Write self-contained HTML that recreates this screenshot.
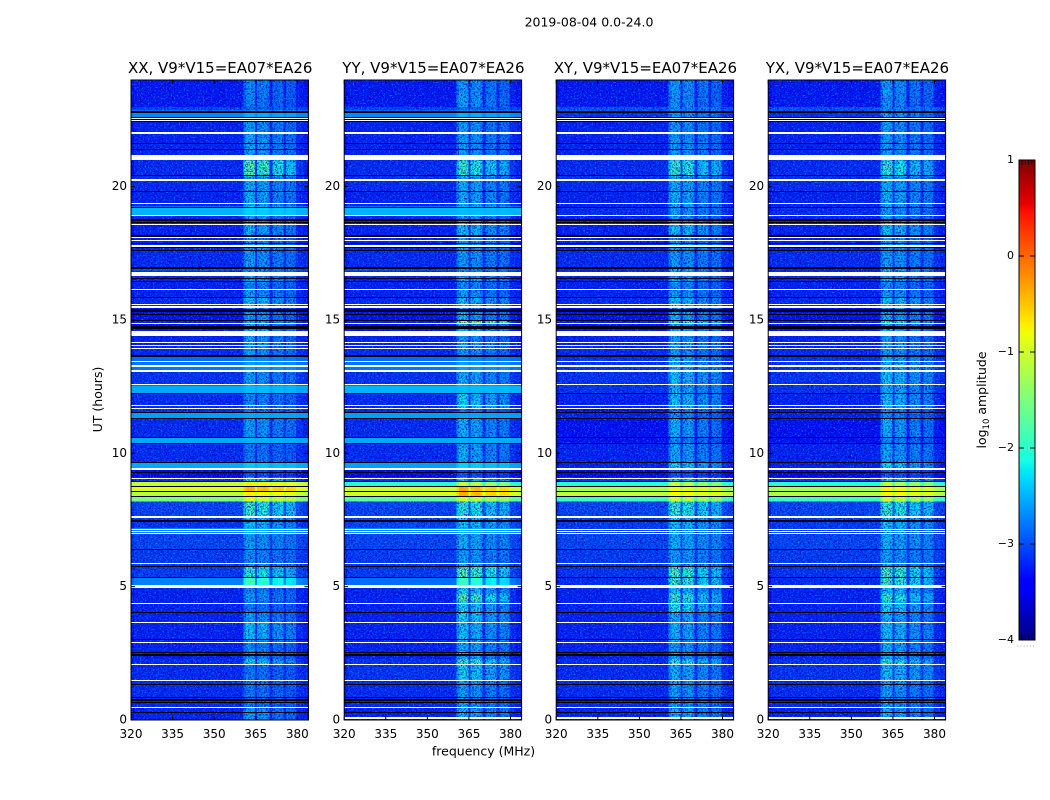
<!DOCTYPE html>
<html>
<head>
<meta charset="utf-8">
<title>2019-08-04 amplitude waterfall</title>
<style>
html,body{margin:0;padding:0;background:#fff;}
svg{display:block;}
text{font-family:"DejaVu Sans","Liberation Sans",sans-serif;fill:#000;}
</style>
</head>
<body>
<svg id="chart" xmlns="http://www.w3.org/2000/svg" width="1050" height="800" viewBox="0 0 1050 800">
<defs>
<filter id="speckleDark" x="0" y="0" width="100%" height="100%" color-interpolation-filters="sRGB">
<feTurbulence type="fractalNoise" baseFrequency="0.62" numOctaves="2" seed="4"/>
<feColorMatrix type="matrix" values="0 0 0 0 0  0 0 0 0 0  0 0 0 0 0.68  2.6 0 0 0 -1.1"/>
</filter>
<filter id="speckleLight" x="0" y="0" width="100%" height="100%" color-interpolation-filters="sRGB">
<feTurbulence type="fractalNoise" baseFrequency="0.62" numOctaves="2" seed="11"/>
<feColorMatrix type="matrix" values="0 0 0 0 0  0 0 0 0 0.72  0 0 0 0 1  0 2.4 0 0 -1.32"/>
</filter>
</defs>
<text x="589" y="26.5" font-size="12.5" text-anchor="middle">2019-08-04 0.0-24.0</text>
<text transform="translate(102,399.5) rotate(-90)" font-size="12.5" text-anchor="middle">UT (hours)</text>
<text x="483.5" y="755.5" font-size="12.5" text-anchor="middle">frequency (MHz)</text>
<text transform="translate(986,400) rotate(-90)" font-size="12.5" text-anchor="middle">log<tspan font-size="8.5" dy="3">10</tspan><tspan dy="-3"> amplitude</tspan></text>
<g id="panels"></g>
<g id="colorbar"></g>
</svg>
<script>
// Axis tick values
const freqTicks = [320, 335, 350, 365, 380];
const hourTicks = [0, 5, 10, 15, 20];
const colorTicks = [1, 0, -1, -2, -3, -4];

// Panel titles
const panelTitles = ["XX, V9*V15=EA07*EA26", "YY, V9*V15=EA07*EA26", "XY, V9*V15=EA07*EA26", "YX, V9*V15=EA07*EA26"];

// Frequency bands (MHz) and how strongly each one shows the band-limited signal
const freqEdges = [320, 321, 360.5, 361.5, 363.5, 364.8, 365.5, 367, 369, 369.9, 371, 373, 375, 376, 378, 379.6, 382, 384];
const bandWeights = [-0.15, 0, 0.7, 1, 0.95, 0.1, 0.8, 0.9, 0.75, 0.05, 0.65, 0.7, 0.1, 0.6, 0.55, 0.05, -0.05];

// Time segments (UT hours)
const rowEdges = [0, 0.5, 1.5, 2.1, 2.3, 3, 3.7, 4.05, 4.45, 4.75, 5.05, 5.35, 5.75, 6.4, 7, 7.2, 7.65, 8.2, 8.37, 8.58, 8.75, 8.96, 9.1, 9.4, 9.66, 10.38, 10.6, 11.31, 11.52, 11.7, 12.25, 12.55, 13.1, 13.45, 13.65, 14, 14.5, 14.88, 15, 15.3, 15.5, 15.85, 16.15, 16.43, 16.65, 16.85, 17, 17.6, 18.15, 18.6, 18.95, 19.25, 19.85, 20.25, 20.4, 21, 21.4, 22, 22.44, 22.55, 22.85, 23, 23.4, 24];

// log10 amplitude per time segment: quiet band and active band, per polarisation
const xxQuiet = [-3.2,-3.15,-3.15,-3.15,-3.2,-3.2,-3.2,-3.2,-3.2,-3.2,-2.75,-3.05,-3.05,-3,-2.75,-3.1,-3,-1.5,-1.15,-0.9,-1.05,-3.1,-3.35,-2.55,-3.15,-2.55,-3.15,-2.6,-3.15,-3.15,-2.55,-3.1,-2.8,-2.85,-3.15,-3.2,-3.3,-3.2,-3.3,-3.3,-3.15,-3.2,-3.2,-3.2,-3.15,-2.95,-3.15,-3.2,-3.2,-3.2,-2.5,-3.2,-3.15,-3.15,-3.15,-3.2,-3.2,-3.2,-3.2,-2.7,-3,-3.25,-3.25];
const xxActive = [-2.5,-2.7,-2.7,-2.2,-2.6,-2.3,-2.5,-2.7,-2.5,-2.6,-1.9,-2,-2.6,-2.5,-2.5,-2.3,-1.9,-0.9,-0.7,-0.4,-0.7,-2.2,-2.9,-2.4,-2.7,-2.5,-2.5,-2.55,-2.7,-2.6,-2.45,-2.5,-2.6,-2.7,-2.5,-2.5,-2.4,-2.4,-2.5,-2.5,-2.3,-2.5,-2.6,-2.4,-2.6,-2.6,-2.5,-2.5,-2.4,-2.5,-2.35,-2.4,-2.4,-2.5,-1.7,-2.45,-2.45,-2.5,-2.6,-2.5,-2.8,-2.65,-2.6];
const yyQuiet = [-3.2,-3.15,-3.1,-3.1,-3.2,-3.2,-3.2,-3.2,-3.2,-3.2,-2.85,-3.05,-3.05,-3,-2.7,-3,-3,-1.7,-1,-1,-2,-3.1,-3.35,-2.6,-3.15,-2.55,-3.15,-2.6,-3.15,-3.15,-2.5,-3.1,-2.8,-2.85,-3.15,-3.2,-3.3,-3.2,-3.3,-3.3,-3.15,-3.2,-3.2,-3.2,-3.15,-2.95,-3.15,-3.2,-3.2,-3.2,-2.5,-3.2,-3.15,-3.15,-3.15,-3.2,-3.2,-3.2,-3.2,-2.7,-3,-3.25,-3.25];
const yyActive = [-2.4,-2.5,-2.2,-1.9,-2.4,-2.3,-2.2,-2.2,-1.7,-2.2,-1.9,-1.7,-2.5,-2.4,-2.5,-2.3,-2,-1,-0.35,-0.35,-1,-2.2,-2.9,-2.35,-2.4,-2.5,-2.4,-2.55,-2.7,-2.2,-2.45,-2.4,-2.6,-2.7,-2.5,-2.5,-2.4,-0.9,-2.4,-2.4,-2.3,-2.5,-2.6,-2.4,-2.6,-2.6,-2.5,-2.5,-2.3,-2.5,-2.45,-2.4,-2.4,-2.5,-1.9,-2.5,-2.5,-2.5,-2.6,-2.5,-2.8,-2.45,-2.5];
const xyQuiet = [-3.2,-3.15,-3.15,-3.15,-3.2,-3.2,-3.2,-3.2,-3.2,-3.2,-3.15,-3.1,-3.05,-3,-3,-3.05,-3,-1.9,-1.1,-1.25,-2,-3.1,-3.35,-3.2,-3.2,-3.3,-3.3,-3.2,-3.3,-3.2,-3.1,-3.1,-3.1,-3.1,-3.15,-3.2,-3.3,-3.2,-3.3,-3.3,-3.15,-3.2,-3.2,-3.2,-3.15,-3.2,-3.15,-3.2,-3.2,-3.2,-3.15,-3.2,-3.15,-3.15,-3.15,-3.2,-3.2,-3.2,-3.2,-3.1,-2.9,-3.25,-3.25];
const xyActive = [-2.4,-2.5,-2.4,-2,-2.5,-2.4,-2.4,-2.1,-1.9,-2.3,-1.8,-1.8,-2.5,-2.4,-2.4,-2.3,-1.9,-1,-0.8,-0.8,-1,-2.2,-2.9,-2.2,-2.45,-2.6,-2.4,-2.6,-2.6,-2.3,-2.4,-2.3,-2.4,-2.4,-2.5,-2.5,-2.4,-1.8,-2.4,-2.4,-2.3,-2.5,-2.6,-2.4,-2.6,-2.4,-2.5,-2.5,-2.3,-2.5,-2.5,-2.4,-2.4,-2.5,-1.9,-2.5,-2.5,-2.5,-2.6,-2.5,-2.6,-2.55,-2.5];
const yxQuiet = [-3.2,-3.15,-3.1,-3.1,-3.2,-3.2,-3.2,-3.2,-3.2,-3.2,-3.15,-3.1,-3.05,-3,-3,-3.05,-3,-1.9,-1.2,-1.25,-2,-3.1,-3.35,-3.2,-3.2,-3.3,-3.3,-3.2,-3.3,-3.2,-3.1,-3.1,-3.1,-3.1,-3.15,-3.2,-3.3,-3.2,-3.3,-3.3,-3.15,-3.2,-3.2,-3.2,-3.15,-3.2,-3.15,-3.2,-3.2,-3.2,-3.15,-3.2,-3.15,-3.15,-3.15,-3.2,-3.2,-3.2,-3.2,-3.1,-2.9,-3.25,-3.25];
const yxActive = [-2.4,-2.5,-2.3,-2,-2.4,-2.3,-2.4,-2.2,-1.9,-2.3,-1.8,-1.8,-2.5,-2.4,-2.4,-2.3,-1.9,-1,-0.75,-0.75,-1,-2.2,-2.9,-2.2,-2.45,-2.6,-2.4,-2.6,-2.6,-2.3,-2.4,-2.3,-2.4,-2.4,-2.5,-2.5,-2.4,-2,-2.4,-2.4,-2.3,-2.5,-2.6,-2.4,-2.6,-2.4,-2.5,-2.5,-2.3,-2.5,-2.5,-2.4,-2.4,-2.5,-2,-2.5,-2.5,-2.5,-2.6,-2.5,-2.6,-2.55,-2.5];

// Flagged integrations: centre hour and width in hours
const whiteHours = [22.556,22.481,22.01,21.1,20.25,19.376,18.91,18.59,18.1,17.99,17.775,16.73,16.15,15.59,15.49,14.876,14.49,14.16,14.05,13.94,13.44,13.275,13.09,12.57,11.79,11.69,9.41,9.06,7.62,7.15,7.07,6.98,5.876,5.006,4.376,3.664,2.914,2.089,1.489,0.476];
const whiteWidths = [0.04,0.04,0.045,0.2,0.045,0.045,0.045,0.045,0.04,0.04,0.045,0.16,0.045,0.045,0.045,0.045,0.19,0.04,0.04,0.04,0.045,0.045,0.045,0.05,0.04,0.04,0.1,0.045,0.085,0.04,0.04,0.04,0.045,0.09,0.045,0.045,0.045,0.045,0.045,0.045];
const blackHours = [22.81,22.594,22.52,22.44,21.63,21.4,20.41,19.83,19.23,18.76,18.67,18.15,17.87,17.81,17.72,17.61,16.95,16.54,16.43,15.85,15.35,15.22,14.99,14.72,13.65,12.25,11.52,11.31,10.6,10.38,9.66,9.28,8.96,8.75,8.58,8.37,7.46,6.4,5.76,5.35,4.04,3.03,2.52,2.44,1.34,0.84,0.75,0.65,0.29];
const blackWidths = [0.07,0.04,0.04,0.04,0.04,0.04,0.04,0.04,0.04,0.065,0.04,0.04,0.04,0.04,0.04,0.04,0.07,0.04,0.04,0.04,0.12,0.04,0.04,0.11,0.04,0.04,0.04,0.04,0.04,0.04,0.04,0.05,0.04,0.04,0.04,0.04,0.07,0.04,0.04,0.04,0.04,0.04,0.05,0.05,0.04,0.04,0.04,0.04,0.04];
// Last flagged integration, present in every panel but XX
const bottomFlagHour = 0.08;
const bottomFlagWidth = 0.085;

const quietSeries = [xxQuiet, yyQuiet, xyQuiet, yxQuiet];
const activeSeries = [xxActive, yyActive, xyActive, yxActive];

const NS = "http://www.w3.org/2000/svg";
const panelLeft = [131, 344.2, 556.2, 768.2];
const panelWidth = 177.4;
const plotTop = 80, plotBottom = 720;
const freqMin = 320, freqMax = 384, hourMin = 0, hourMax = 24;
const cmin = -4, cmax = 1;
const smoothRowLevel = -2.9;

function node(tag, attrs, parent) {
  const el = document.createElementNS(NS, tag);
  for (const k in attrs) el.setAttribute(k, attrs[k]);
  parent.appendChild(el);
  return el;
}
function xScale(left, f) { return left + (f - freqMin) / (freqMax - freqMin) * panelWidth; }
function yScale(h) { return plotBottom - (h - hourMin) / (hourMax - hourMin) * (plotBottom - plotTop); }
function interp(pts, t) {
  for (let i = 1; i < pts.length; i++) {
    if (t <= pts[i][0]) {
      const a = pts[i - 1], b = pts[i];
      return a[1] + (b[1] - a[1]) * (t - a[0]) / (b[0] - a[0]);
    }
  }
  return pts[pts.length - 1][1];
}
const jetR = [[0,0],[0.35,0],[0.66,1],[0.89,1],[1,0.5]];
const jetG = [[0,0],[0.125,0],[0.375,1],[0.64,1],[0.91,0],[1,0]];
const jetB = [[0,0.5],[0.11,1],[0.34,1],[0.65,0],[1,0]];
function colorScale(v) {
  const t = Math.max(0, Math.min(1, (v - cmin) / (cmax - cmin)));
  const c = [jetR, jetG, jetB].map(p => Math.round(interp(p, t) * 255));
  return "rgb(" + c.join(",") + ")";
}
function fmt(v) { return v < 0 ? "\u2212" + Math.abs(v) : String(v); }
function flagRect(left, hour, width, color, parent) {
  const y0 = Math.round(yScale(hour + width / 2));
  const y1 = Math.max(y0 + 1, Math.round(yScale(hour - width / 2)));
  return node("rect", { x: left, y: y0, width: panelWidth, height: y1 - y0, fill: color }, parent);
}

const panelsRoot = document.getElementById("panels");
panelTitles.forEach(function (title, p) {
  const left = panelLeft[p];
  const g = node("g", {}, panelsRoot);
  
  

  const cells = node("g", { "shape-rendering": "crispEdges" }, g);
  
  

  const dark = node("rect", { x: left, y: plotTop, width: panelWidth, height: plotBottom - plotTop, filter: "url(#speckleDark)" }, g);
  
  
  const light = node("rect", { x: left, y: plotTop, width: panelWidth, height: plotBottom - plotTop, filter: "url(#speckleLight)" }, g);
  
  

  const smoothCells = node("g", { "shape-rendering": "crispEdges" }, g);
  
  

  for (let r = 0; r < rowEdges.length - 1; r++) {
    for (let c = 0; c < freqEdges.length - 1; c++) {
      const q = quietSeries[p][r], a = activeSeries[p][r];
      const val = q + (a - q) * bandWeights[c];
      const x0 = xScale(left, freqEdges[c]), x1 = xScale(left, freqEdges[c + 1]);
      const y0 = yScale(rowEdges[r + 1]), y1 = yScale(rowEdges[r]);
      const target = q > smoothRowLevel ? smoothCells : cells;
      const cell = node("rect", { x: x0, y: y0, width: x1 - x0 + 0.4, height: y1 - y0 + 0.4, fill: colorScale(val) }, target);
      
      
    }
  }

  const flags = node("g", { "shape-rendering": "crispEdges" }, g);
  
  
  blackHours.forEach(function (h, i) {
    const line = flagRect(left, h, blackWidths[i], "#000010", flags);
    
    
  });
  whiteHours.forEach(function (h, i) {
    const line = flagRect(left, h, whiteWidths[i], "#fff", flags);
    
    
  });
  if (p > 0) {
    const last = flagRect(left, bottomFlagHour, bottomFlagWidth, "#fff", flags);
    
    
  }

  const frame = node("rect", { x: left, y: plotTop, width: panelWidth, height: plotBottom - plotTop, fill: "none", stroke: "#000", "stroke-width": 1 }, g);
  
  

  const t = node("text", { x: left + panelWidth / 2 + 0.5, y: 73, "font-size": 15, "text-anchor": "middle" }, g);
  t.textContent = title;
  
  

  freqTicks.forEach(function (f) {
    const x = xScale(left, f);
    const tb = node("line", { x1: x, x2: x, y1: plotBottom, y2: plotBottom - 4, stroke: "#000" }, g);
    
    
    const tt = node("line", { x1: x, x2: x, y1: plotTop, y2: plotTop + 4, stroke: "#000" }, g);
    
    
    const lab = node("text", { x: x, y: 738, "font-size": 12, "text-anchor": "middle" }, g);
    lab.textContent = f;
    
    
  });
  hourTicks.forEach(function (h) {
    const y = yScale(h);
    const tl = node("line", { x1: left, x2: left + 4, y1: y, y2: y, stroke: "#000" }, g);
    
    
    const tr = node("line", { x1: left + panelWidth, x2: left + panelWidth - 4, y1: y, y2: y, stroke: "#000" }, g);
    
    
    const lab = node("text", { x: left - 4, y: y + 3.5, "font-size": 12, "text-anchor": "end" }, g);
    lab.textContent = h;
    
    
  });
});

// Colorbar
const cbRoot = document.getElementById("colorbar");
const cbLeft = 1019, cbWidth = 16, cbTop = 160, cbBottom = 640, cbSteps = 240;
function cbY(v) { return cbBottom - (v - cmin) / (cmax - cmin) * (cbBottom - cbTop); }
const cbFill = node("g", { "shape-rendering": "crispEdges" }, cbRoot);


for (let i = 0; i < cbSteps; i++) {
  const v0 = cmin + (cmax - cmin) * i / cbSteps, v1 = cmin + (cmax - cmin) * (i + 1) / cbSteps;
  node("rect", { x: cbLeft, y: cbY(v1), width: cbWidth, height: cbY(v0) - cbY(v1) + 0.5, fill: colorScale((v0 + v1) / 2) }, cbFill);
}
const cbFrame = node("rect", { x: cbLeft, y: cbTop, width: cbWidth, height: cbBottom - cbTop, fill: "none", stroke: "#000", "stroke-width": 1 }, cbRoot);


colorTicks.forEach(function (v) {
  const y = cbY(v);
  if (v !== cmin && v !== cmax) {
    const a = node("line", { x1: cbLeft, x2: cbLeft + 5, y1: y, y2: y, stroke: "#000" }, cbRoot);
    
    
    const b = node("line", { x1: cbLeft + cbWidth, x2: cbLeft + cbWidth - 5, y1: y, y2: y, stroke: "#000" }, cbRoot);
    
    
  }
  const lab = node("text", { x: 1014, y: y + 3, "font-size": 11, "text-anchor": "end" }, cbRoot);
  lab.textContent = fmt(v);
  
  
});
for (let i = 1; i <= 4; i++) {
  const dx = cbLeft + i * cbWidth / 5;
  const top = node("line", { x1: dx, x2: dx, y1: cbTop, y2: cbTop + 5, stroke: "#000", "stroke-opacity": 0.7 }, cbRoot);
  
  
  const bot = node("line", { x1: dx, x2: dx, y1: cbBottom, y2: cbBottom - 5, stroke: "#000", "stroke-opacity": 0.7 }, cbRoot);
  
  
}
for (let i = 0; i < 6; i++) {
  const d = node("rect", { x: 1017.5 + i * 3.1, y: 645.5, width: 1, height: 1, fill: "#aaa" }, cbRoot);
  
  
}
</script>
</body>
</html>
